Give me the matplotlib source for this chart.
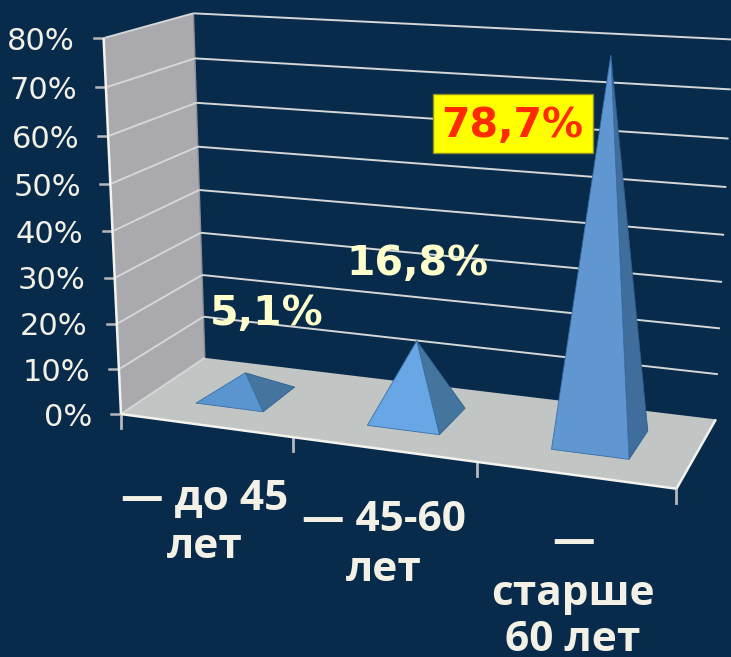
import numpy as np
import matplotlib
matplotlib.use("Agg")
import matplotlib.pyplot as plt

# Chart data
categories = ["— до 45\nлет", "— 45-60\nлет", "—\nстарше\n60 лет"]
shares = [5.1, 16.8, 78.7]
value_labels = ["5,1%", "16,8%", "78,7%"]
y_ticks = [0, 10, 20, 30, 40, 50, 60, 70, 80]

BG = "#082B4B"
WALL = "#A9A9AE"
FLOOR = "#C1C5C4"
GRID = "#D4D6D8"
EDGE = "#F3F3EE"
TICK = "#B4B8BC"
TEXT = "#F3F1E6"
PALE = "#FFFFCC"
FONT = "DejaVu Sans"
CATEGORY_FONT = "Open Sans"

# Perspective camera for the box: (category position, depth, percent) -> canvas.
anchors_3d = [(0, 0, 0), (0, 1, 0), (3, 1, 0), (3, 0, 0),
              (0, 0, 80), (0, 1, 80), (3, 1, 80),
              (1, 0, 0), (2, 0, 0)]
anchors_2d = [(121, 413), (205, 359), (716, 418), (677, 489),
              (104, 38), (193, 13), (733, 40),
              (293, 437), (476, 463)]


def fit_camera(src, dst):
    rows = []
    for (x, y, z), (px, py) in zip(src, dst):
        rows.append([x, y, z, 1, 0, 0, 0, 0, -px * x, -px * y, -px * z, -px])
        rows.append([0, 0, 0, 0, x, y, z, 1, -py * x, -py * y, -py * z, -py])
    return np.linalg.svd(np.array(rows, float))[2][-1].reshape(3, 4)


CAMERA = fit_camera(anchors_3d, anchors_2d)


def project(u, d, v):
    p = CAMERA @ np.array([u, d, v, 1.0])
    return p[0] / p[2], p[1] / p[2]


fig = plt.figure(figsize=(7.31, 6.57), dpi=100, facecolor=BG)
ax = fig.add_axes([0, 0, 1, 1])
ax.set_xlim(0, 731)
ax.set_ylim(657, 0)
ax.axis("off")


def face(points, color, z, edge="none", lw=0):
    ax.fill(*zip(*[project(*p) for p in points]), facecolor=color,
            edgecolor=edge, linewidth=lw, zorder=z, joinstyle="round")


def segment(a, b, color, lw, z):
    xa, ya = project(*a)
    xb, yb = project(*b)
    ax.plot([xa, xb], [ya, yb], color=color, lw=lw, zorder=z,
            solid_capstyle="butt")


# Left wall and floor
face([(0, 0, 0), (0, 1, 0), (0, 1, 80), (0, 0, 80)], WALL, 1)
face([(0, 0, 0), (0, 1, 0), (3, 1, 0), (3, 0, 0)], FLOOR, 2)

# Gridlines, wall edges, axis ticks
for v in y_ticks:
    segment((0, 0, v), (0, 1, v), GRID, 1.4, 3)
    if v > 0:
        segment((0, 1, v), (3, 1, v), GRID, 1.4, 1.5)
    x, y = project(0, 0, v)
    ax.plot([x - 10, x], [y, y], color=TICK, lw=1.8, zorder=3)
    ax.text(x - 29, y + 3, f"{v}%", ha="right", va="center",
            color=TEXT, fontsize=22, family=FONT, zorder=6)
segment((0, 0, 0), (0, 0, 80), EDGE, 1.8, 4)
segment((0, 1, 0), (0, 1, 80), "#8F9097", 1.0, 1.2)
segment((0, 0, 0), (3, 0, 0), EDGE, 1.8, 4)
segment((3, 0, 0), (3, 1, 0), EDGE, 1.8, 4)
for u in range(4):
    x, y = project(u, 0, 0)
    ax.plot([x, x], [y, y + 14], color=TICK, lw=2, zorder=3)

# Pyramids
half_u, near, far = 0.2, 0.29, 0.71
front_colors = ["#5B95CF", "#69A6E6", "#6197D1"]
side_colors = ["#44759F", "#44759F", "#3F6D9C"]
for i, value in enumerate(shares):
    c = i + 0.5
    apex = (c, 0.5, value)
    right = c + half_u
    left = c - half_u
    face([(right, near, 0), (right, far, 0), apex], side_colors[i], 5 + i * .01, "#2F5F8F", 0.6)
    face([(left, near, 0), (right, near, 0), apex], front_colors[i], 5 + i * .01, "#3A6FA8", 0.6)

# Value labels
ax.text(267, 314, value_labels[0], ha="center", va="center", color=PALE,
        fontsize=29.5, fontweight="bold", family=FONT, zorder=7)
ax.text(417, 264, value_labels[1], ha="center", va="center", color=PALE,
        fontsize=29.5, fontweight="bold", family=FONT, zorder=7)
ax.fill([433, 593, 593, 433], [94, 94, 153, 153], facecolor="#FFFF00",
        edgecolor="#8F8F20", linewidth=1, zorder=7)
ax.text(512, 126, value_labels[2], ha="center", va="center", color="#FF2A00",
        fontsize=29.5, fontweight="bold", family=FONT, zorder=8)

# Category labels, one text per line on fixed baselines
centers = [205, 384, 573]
baselines = [[510, 558], [531, 581], [553, 605, 651]]
for text, cx, rows in zip(categories, centers, baselines):
    for line, baseline in zip(text.split("\n"), rows):
        ax.text(cx, baseline, line, ha="center", va="baseline", color=TEXT,
                fontsize=30.5, fontweight="bold", family=CATEGORY_FONT, zorder=6)

fig.savefig("out.png", dpi=100, facecolor=BG)
